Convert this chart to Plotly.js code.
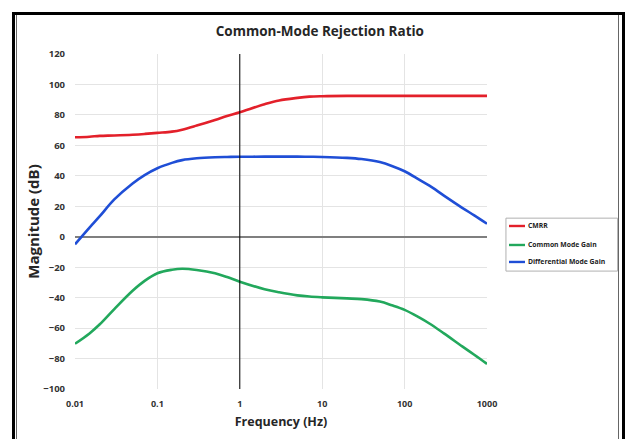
<!DOCTYPE html>
<html>
<head>
<meta charset="utf-8">
<script src="https://cdn.plot.ly/plotly-3.0.1.min.js"></script>
<style>
  html, body { margin: 0; padding: 0; background: #ffffff; }
  #wrap { position: relative; width: 626px; height: 439px; overflow: hidden; }
  #chart { position: absolute; left: 0; top: 0; width: 626px; height: 439px; }
  /* double frame around the figure */
  .frame-outer { position: absolute; left: 12px; top: 12px; width: 607px; height: 500px;
                 border: 3px solid #000; pointer-events: none; }
  .frame-inner { position: absolute; left: 16px; top: 15px; width: 601px; height: 500px;
                 border-left: 1px solid #666; border-right: 1px solid #666; pointer-events: none; }
</style>
</head>
<body>
<div id="wrap">
  <div id="chart"></div>
  <div class="frame-outer"></div>
  <div class="frame-inner"></div>
</div>
<script>
// Frequency points (Hz)
const freq = [0.01, 0.015, 0.02, 0.03, 0.05, 0.07, 0.1, 0.15, 0.2, 0.3, 0.5, 0.7,
              1, 2, 3, 5, 7, 10, 20, 30, 50, 70, 100, 150, 200, 300, 500, 700, 1000];

// Magnitudes in dB
const cmrr = [65.3, 65.7, 66.2, 66.5, 67.0, 67.5, 68.2, 69.0, 70.3, 73.0, 76.7, 79.3,
              81.8, 87.0, 89.5, 91.2, 92.0, 92.3, 92.5, 92.5, 92.5, 92.5, 92.5, 92.5, 92.5, 92.5, 92.5, 92.5, 92.5];

const commonGain = [-70.3, -63.5, -57.5, -47.5, -35.5, -29.0, -24.0, -21.7, -21.0, -21.8, -24.0, -26.5,
                    -29.5, -34.5, -36.5, -38.5, -39.3, -39.8, -40.5, -41.0, -42.6, -45.0, -48.0, -53.0, -57.0, -63.5, -72.0, -77.5, -83.5];

const diffGain = [-5.0, 6.0, 13.5, 24.5, 35.0, 40.5, 45.0, 48.5, 50.3, 51.5, 52.2, 52.4,
                  52.5, 52.6, 52.6, 52.6, 52.5, 52.4, 51.8, 51.0, 49.0, 46.5, 43.0, 37.5, 33.5, 27.0, 19.0, 14.0, 8.5];

const seriesNames = ['CMRR', 'Common Mode Gain', 'Differential Mode Gain'];
const seriesColors = ['#e3202a', '#22a85c', '#1f4ed6'];
const xTicks = [0.01, 0.1, 1, 10, 100, 1000];
const xTickText = ['0.01', '0.1', '1', '10', '100', '1000'];
const yTicks = [-100, -80, -60, -40, -20, 0, 20, 40, 60, 80, 100, 120];

const FONT = 'Open Sans, Noto Sans, Liberation Sans, sans-serif';

function curve(y, i) {
  return {
    x: freq, y: y, name: seriesNames[i], type: 'scatter', mode: 'lines',
    line: { color: seriesColors[i], width: 2.6, shape: 'spline', smoothing: 1 },
    hoverinfo: 'x+y+name'
  };
}

const data = [curve(cmrr, 0), curve(commonGain, 1), curve(diffGain, 2)];

// Compact legend box to the right of the plot (paper coordinates)
const legendBox = { x0: 1.046, x1: 1.317, y0: 0.352, y1: 0.510 };
const legendRows = [0.4866, 0.4299, 0.3792];
const legendShapes = [
  { type: 'rect', xref: 'paper', yref: 'paper',
    x0: legendBox.x0, x1: legendBox.x1, y0: legendBox.y0, y1: legendBox.y1,
    line: { color: '#b0b0b0', width: 1 }, fillcolor: '#ffffff' }
];
const legendNotes = [];
seriesNames.forEach((name, i) => {
  legendShapes.push({ type: 'line', xref: 'paper', yref: 'paper',
    x0: 1.0534, x1: 1.0922, y0: legendRows[i], y1: legendRows[i],
    line: { color: seriesColors[i], width: 2.4 } });
  legendNotes.push({ xref: 'paper', yref: 'paper', x: 1.0947, y: legendRows[i],
    xanchor: 'left', yanchor: 'middle', showarrow: false, text: name,
    font: { family: FONT, size: 6.8, weight: 'bold', color: '#222' } });
});

const layout = {
  width: 626, height: 439,
  paper_bgcolor: '#ffffff', plot_bgcolor: '#ffffff',
  margin: { l: 75, r: 139, t: 54, b: 50, autoexpand: false },
  font: { family: FONT, color: '#222' },
  showlegend: false,
  title: {
    text: 'Common-Mode Rejection Ratio',
    font: { family: FONT, size: 13.5, weight: 'bold', color: '#262626' },
    xref: 'container', x: 0.511, xanchor: 'center',
    yref: 'container', y: 0.929, yanchor: 'middle'
  },
  xaxis: {
    type: 'log', range: [-2, 3],
    tickvals: xTicks, ticktext: xTickText,
    tickfont: { family: FONT, size: 9, weight: 'bold', color: '#333' },
    showgrid: true, gridcolor: '#e4e4e4', gridwidth: 1,
    zeroline: false, showline: false, ticks: '',
    ticklabelstandoff: 8,
    title: { text: 'Frequency (Hz)', font: { family: FONT, size: 12.5, weight: 'bold', color: '#262626' }, standoff: 8 }
  },
  yaxis: {
    range: [-100, 120],
    tickvals: yTicks,
    tickfont: { family: FONT, size: 9.5, weight: 'bold', color: '#333' },
    showgrid: true, gridcolor: '#e4e4e4', gridwidth: 1,
    zeroline: true, zerolinecolor: '#7f7f7f', zerolinewidth: 2,
    showline: false, ticks: '',
    ticklabelstandoff: 9,
    title: { text: 'Magnitude (dB)', font: { family: FONT, size: 15, weight: 'bold', color: '#262626' }, standoff: 0 }
  },
  shapes: [
    { type: 'line', xref: 'x', yref: 'paper', x0: 1, x1: 1, y0: 0, y1: 1,
      line: { color: '#000000', width: 1 }, layer: 'above' }
  ].concat(legendShapes),
  annotations: legendNotes
};

Plotly.newPlot('chart', data, layout, { displayModeBar: false, staticPlot: true });
</script>
</body>
</html>
